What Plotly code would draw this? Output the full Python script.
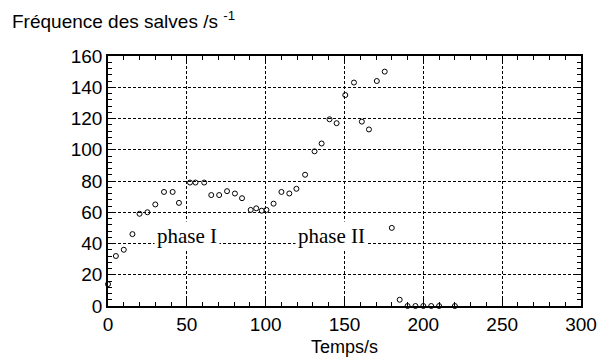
import plotly.graph_objects as go

# Data
temps = [0, 5, 10, 15.5, 20, 25, 30, 35.5, 41, 45, 52, 55.5, 61, 65.5, 70.5, 75.5,
         80.5, 85, 90.5, 94, 97.5, 100.5, 105, 110, 115, 119.5, 125, 131, 135.5,
         140.5, 145, 150.5, 156, 161, 165.5, 170.5, 175.5, 180, 185, 190, 195, 200,
         205, 210, 220]
frequence = [14, 32, 36, 46, 59, 60, 65, 73, 73, 66, 79, 79, 79, 71, 71, 73.5,
             72, 69, 61.5, 62.5, 61, 61.5, 65.5, 73, 72, 75, 84, 99, 104,
             119.5, 117, 135, 143, 118, 113, 144, 150, 50, 4, 0, 0, 0,
             0, 0, 0]

x_ticks = [0, 50, 100, 150, 200, 250, 300]
y_ticks = [0, 20, 40, 60, 80, 100, 120, 140, 160]

phase_labels = ["phase I", "phase II"]
phase_x = [49.8, 142]
phase_y = [44.5, 44.5]

fig = go.Figure()
fig.add_trace(go.Scatter(
    x=temps, y=frequence, mode="markers",
    marker=dict(symbol="circle-open", size=5, color="black", line=dict(width=1, color="black")),
    cliponaxis=False, showlegend=False,
))

tickfont = dict(family="Liberation Sans, Arial, sans-serif", size=19, color="black")

fig.update_layout(
    width=609, height=361,
    margin=dict(l=108, r=20, t=56, b=55),
    paper_bgcolor="white", plot_bgcolor="white",
    xaxis=dict(
        range=[0, 300], tickvals=x_ticks, ticktext=[str(v) for v in x_ticks],
        showline=True, linecolor="black", linewidth=1.5, mirror="ticks",
        ticks="inside", ticklen=7, tickcolor="black", tickwidth=1,
        minor=dict(dtick=10, ticks="inside", ticklen=4, tickcolor="black", showgrid=False),
        showgrid=True, gridcolor="black", gridwidth=1, griddash="3px,2px",
        zeroline=False, tickfont=tickfont,
    ),
    yaxis=dict(
        range=[0, 160], tickvals=y_ticks, ticktext=[str(v) for v in y_ticks],
        showline=True, linecolor="black", linewidth=1.5, mirror="ticks",
        ticks="inside", ticklen=7, tickcolor="black", tickwidth=1,
        minor=dict(dtick=4, ticks="inside", ticklen=4, tickcolor="black", showgrid=False),
        showgrid=True, gridcolor="black", gridwidth=1, griddash="3px,2px",
        zeroline=False, tickfont=tickfont,
    ),
)

for label, px, py in zip(phase_labels, phase_x, phase_y):
    fig.add_annotation(
        x=px, y=py, xref="x", yref="y", text=label, showarrow=False,
        xanchor="center", yanchor="middle", bgcolor="white", borderpad=2,
        font=dict(family="Liberation Serif, Times New Roman, serif", size=21, color="black"),
    )

# Axis titles
fig.add_annotation(
    x=(8 - 108) / 481, y=(306 - 20) / 250, xref="paper", yref="paper",
    text="Fréquence des salves /s <sup>-1</sup>", showarrow=False,
    xanchor="left", yanchor="middle",
    font=dict(family="Liberation Sans, Arial, sans-serif", size=19, color="black"),
)
fig.add_annotation(
    x=0.5, y=-(335 - 306) / 250, xref="paper", yref="paper",
    text="Temps/s", showarrow=False, xanchor="center", yanchor="top",
    font=dict(family="Liberation Sans, Arial, sans-serif", size=18, color="black"),
)

fig.write_html("out.html")
